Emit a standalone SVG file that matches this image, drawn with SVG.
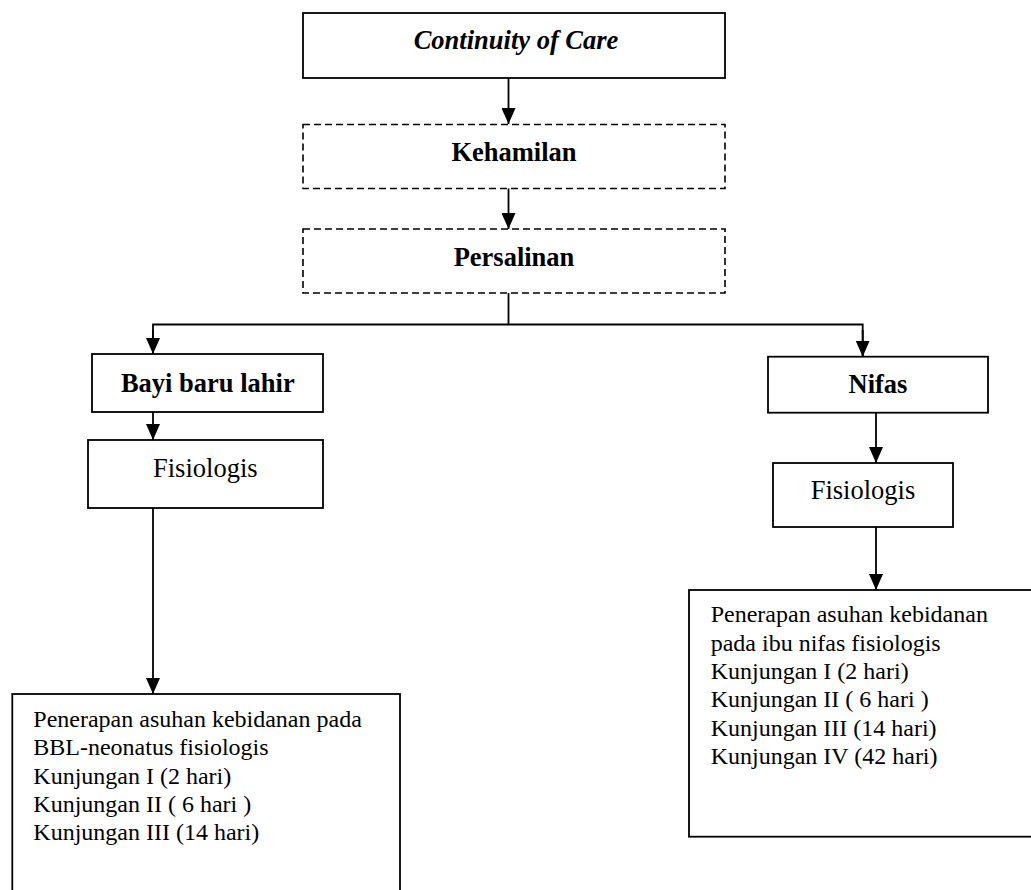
<svg xmlns="http://www.w3.org/2000/svg" width="1031" height="890" viewBox="0 0 1031 890">
<style>
.box{fill:#fff;stroke:#000;stroke-width:1.8}
.dash{fill:#fff;stroke:#000;stroke-width:1.6;stroke-dasharray:7 4}
.t{font-family:"Liberation Serif","Times New Roman",serif;fill:#000}
.big{font-size:26.5px;text-anchor:middle}
.b{font-weight:bold}
.i{font-style:italic}
.sm{font-size:24px}
.c{fill:none;stroke:#000;stroke-width:1.8}
</style>
<defs>
<marker id="av" markerUnits="userSpaceOnUse" markerWidth="14" markerHeight="16" viewBox="0 0 14 16" refX="7" refY="16" orient="0">
<path d="M0,0 L14,0 L7,16 Z" fill="#000"/>
</marker>
</defs>
<rect width="1031" height="890" fill="#fff"/>
<g id="connectors">
<path class="c" d="M508.5,78 V124" marker-end="url(#av)"/>
<path class="c" d="M508.5,188 V229" marker-end="url(#av)"/>
<path class="c" d="M508.5,293 V324.5"/>
<path class="c" d="M153,354 V324.5 H862.7 V356.7"/>
<path class="c" d="M153,330 V354" marker-end="url(#av)"/>
<path class="c" d="M862.7,330 V356.7" marker-end="url(#av)"/>
<path class="c" d="M153,412 V440" marker-end="url(#av)"/>
<path class="c" d="M153,508 V694" marker-end="url(#av)"/>
<path class="c" d="M876,413 V463" marker-end="url(#av)"/>
<path class="c" d="M876,527 V590" marker-end="url(#av)"/>
</g>
<g id="continuity">
<rect class="box" x="303" y="13" width="422" height="65"/>
<text class="t big b i" x="516" y="48.5">Continuity of Care</text>
</g>
<g id="kehamilan">
<rect class="dash" x="303" y="124.5" width="422" height="64"/>
<text class="t big b" x="514" y="161">Kehamilan</text>
</g>
<g id="persalinan">
<rect class="dash" x="303" y="229" width="422" height="64"/>
<text class="t big b" x="514" y="265.7">Persalinan</text>
</g>
<g id="bayi">
<rect class="box" x="92" y="354" width="231" height="58"/>
<text class="t big b" x="207.8" y="391.7">Bayi baru lahir</text>
</g>
<g id="fisiologis-bayi">
<rect class="box" x="88" y="440" width="235" height="68"/>
<text class="t big" x="205.3" y="476.7">Fisiologis</text>
</g>
<g id="asuhan-bbl">
<rect class="box" x="12.3" y="694" width="387.7" height="210"/>
<text class="t sm" x="33.3" y="727">Penerapan asuhan kebidanan pada</text>
<text class="t sm" x="33.3" y="755.3">BBL-neonatus fisiologis</text>
<text class="t sm" x="33.3" y="783.6">Kunjungan I (2 hari)</text>
<text class="t sm" x="33.3" y="811.9">Kunjungan II ( 6 hari )</text>
<text class="t sm" x="33.3" y="840.2">Kunjungan III (14 hari)</text>
</g>
<g id="nifas">
<rect class="box" x="768" y="356.7" width="220" height="56"/>
<text class="t big b" x="878" y="392.7">Nifas</text>
</g>
<g id="fisiologis-nifas">
<rect class="box" x="773" y="463" width="180" height="64"/>
<text class="t big" x="863" y="499">Fisiologis</text>
</g>
<g id="asuhan-nifas">
<rect class="box" x="689" y="590" width="350" height="246.7"/>
<text class="t sm" x="710.7" y="622.3">Penerapan asuhan kebidanan</text>
<text class="t sm" x="710.7" y="650.6">pada ibu nifas fisiologis</text>
<text class="t sm" x="710.7" y="678.9">Kunjungan I (2 hari)</text>
<text class="t sm" x="710.7" y="707.2">Kunjungan II ( 6 hari )</text>
<text class="t sm" x="710.7" y="735.5">Kunjungan III (14 hari)</text>
<text class="t sm" x="710.7" y="763.8">Kunjungan IV (42 hari)</text>
</g>
</svg>
